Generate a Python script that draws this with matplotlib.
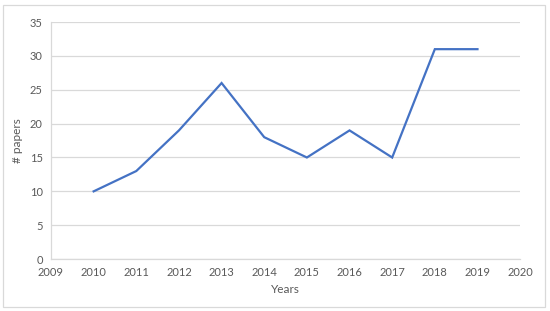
import matplotlib
matplotlib.use("Agg")
import matplotlib.pyplot as plt
from matplotlib.patches import Rectangle

# Data
years = [2010, 2011, 2012, 2013, 2014, 2015, 2016, 2017, 2018, 2019]
papers = [10, 13, 19, 26, 18, 15, 19, 15, 31, 31]
x_ticks = list(range(2009, 2021))
y_ticks = list(range(0, 36, 5))

TEXT = "#595959"
GRID = "#D9D9D9"

plt.rcParams["font.family"] = ["Lato", "DejaVu Sans"]

fig = plt.figure(figsize=(5.5, 3.11), dpi=100)
ax = fig.add_axes([0.0927, 0.167, 0.853, 0.762])

ax.plot(years, papers, color="#4472C4", linewidth=1.6, solid_joinstyle="miter")

ax.set_xlim(2009, 2020)
ax.set_ylim(0, 35)
ax.set_xticks(x_ticks)
ax.set_yticks(y_ticks)
ax.tick_params(length=0, labelsize=8, labelcolor=TEXT, pad=6)
ax.grid(axis="y", color=GRID, linewidth=0.9)
ax.set_axisbelow(True)

for side in ["top", "right"]:
    ax.spines[side].set_visible(False)
for side in ["left", "bottom"]:
    ax.spines[side].set_color(GRID)
    ax.spines[side].set_linewidth(0.9)

ax.set_xlabel("Years", fontsize=8.5, color=TEXT, labelpad=4)
ax.set_ylabel("# papers", fontsize=8.5, color=TEXT, labelpad=5)

# chart border
fig.patches.append(Rectangle((0.006, 0.013), 0.985, 0.97, transform=fig.transFigure,
                             fill=False, edgecolor=GRID, linewidth=0.9))

fig.savefig("out.png", dpi=100)
